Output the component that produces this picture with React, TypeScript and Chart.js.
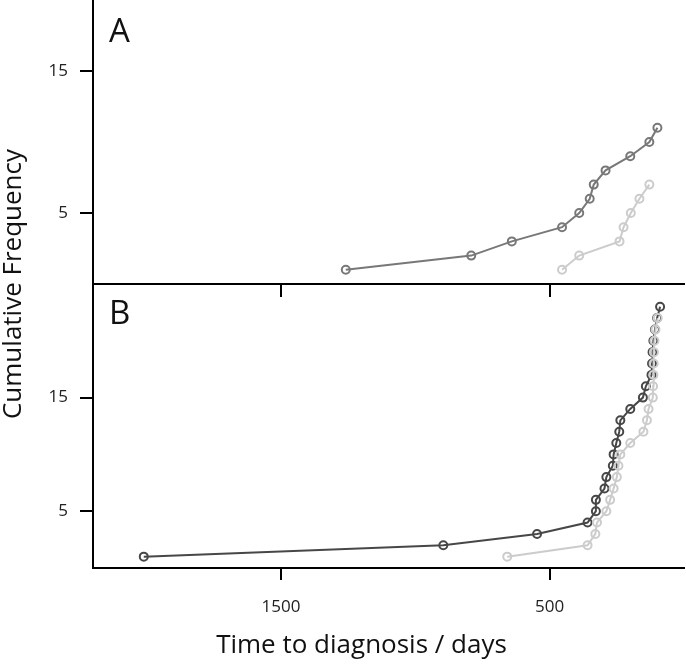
import React, { useEffect, useRef } from 'react';
import { Chart, registerables } from 'chart.js';

Chart.register(...registerables);

// ---- Data ----
// Panel A
const panelADarkDays = [1259, 792, 641, 454, 390, 351, 336, 292, 200, 129, 99];
const panelADarkFreq = [1, 2, 3, 4, 5, 6, 7, 8, 9, 10, 11];
const panelALightDays = [454, 390, 240, 225, 198, 166, 129];
const panelALightFreq = [1, 2, 3, 4, 5, 6, 7];
// Panel B
const panelBDarkDays = [2011, 896, 547, 359, 328, 328, 296, 289, 265, 262, 252, 241, 237, 200, 153, 142, 121, 119, 117, 114, 108, 100, 89];
const panelBDarkFreq = [1, 2, 3, 4, 5, 6, 7, 8, 9, 10, 11, 12, 13, 14, 15, 16, 17, 18, 19, 20, 21, 22, 23];
const panelBLightDays = [658, 359, 330, 324, 289, 275, 262, 250, 244, 237, 200, 151, 138, 132, 116, 115, 114, 113, 112, 110, 106, 98];
const panelBLightFreq = [1, 2, 3, 4, 5, 6, 7, 8, 9, 10, 11, 12, 13, 14, 15, 16, 17, 18, 19, 20, 21, 22];

// Axes
const xTickValues = [500, 1500];
const yTickValues = [5, 15];
const xRange = [0, 2200];
const yARange = [0, 20];
const yBRange = [0, 25];
const panelLabels = ['A', 'B'];
const xTitle = 'Time to diagnosis / days';
const yTitle = 'Cumulative Frequency';

const FONT = "'Open Sans', 'Noto Sans', sans-serif";

const toPoints = (days: number[], freq: number[]) => days.map((d, i) => ({ x: d, y: freq[i] }));

const lineStyle = (color: string) => ({
  borderColor: color,
  borderWidth: 2,
  pointRadius: 4,
  pointBorderWidth: 2,
  pointBorderColor: color,
  pointBackgroundColor: 'rgba(0,0,0,0)',
  pointHoverRadius: 4,
  tension: 0,
  fill: false,
});

const annotations = {
  id: 'panelAnnotations',
  afterDraw(chart: any) {
    const { ctx, chartArea, scales } = chart;
    ctx.save();
    ctx.fillStyle = '#111';
    ctx.font = `33px ${FONT}`;
    ctx.textAlign = 'left';
    ctx.textBaseline = 'alphabetic';
    ctx.fillText(panelLabels[0], chartArea.left + 16, scales.yA.top + 42);
    ctx.fillText(panelLabels[1], chartArea.left + 16, scales.yB.top + 40);
    // x title
    ctx.font = `26px ${FONT}`;
    ctx.textAlign = 'center';
    ctx.textBaseline = 'middle';
    ctx.fillText(xTitle, (chartArea.left + chartArea.right) / 2 - 27, chartArea.bottom + 78);
    // y title
    ctx.translate(14, (chartArea.top + chartArea.bottom) / 2);
    ctx.rotate(-Math.PI / 2);
    ctx.fillText(yTitle, 0, 0);
    ctx.restore();
  },
};

const tickSetter = (values: number[]) => (scale: any) => {
  scale.ticks = values.map((v) => ({ value: v }));
};

const yAxis = (range: number[]) => ({
  type: 'linear' as const,
  position: 'left' as const,
  stack: 'panels',
  stackWeight: 1,
  min: range[0],
  max: range[1],
  afterBuildTicks: tickSetter(yTickValues),
  afterFit: (s: any) => {
    s.width = 93;
    s.paddingTop = 0;
    s.paddingBottom = 0;
  },
  grid: { display: true, drawOnChartArea: false, drawTicks: true, tickLength: 13, color: '#000', lineWidth: 2 },
  border: { display: true, color: '#000', width: 2 },
  ticks: { padding: 12, color: '#222', font: { family: FONT, size: 17 }, callback: (v: any) => String(v) },
});

export default function App() {
  const ref = useRef<HTMLCanvasElement>(null);
  useEffect(() => {
    if (!ref.current) return;
    const chart = new Chart(ref.current, {
      type: 'line',
      data: {
        datasets: [
          { data: toPoints(panelALightDays, panelALightFreq), xAxisID: 'x', yAxisID: 'yA', ...lineStyle('#cccccc') },
          { data: toPoints(panelADarkDays, panelADarkFreq), xAxisID: 'x', yAxisID: 'yA', ...lineStyle('#787878') },
          { data: toPoints(panelBLightDays, panelBLightFreq), xAxisID: 'x', yAxisID: 'yB', ...lineStyle('#cccccc') },
          { data: toPoints(panelBDarkDays, panelBDarkFreq), xAxisID: 'x', yAxisID: 'yB', ...lineStyle('#474747') },
        ] as any,
      },
      options: {
        animation: false,
        responsive: false,
        events: [],
        layout: { autoPadding: false, padding: { left: 0, right: 2, top: 0, bottom: 0 } },
        plugins: { legend: { display: false }, tooltip: { enabled: false } },
        scales: {
          x: {
            type: 'linear',
            position: 'bottom',
            reverse: true,
            min: xRange[0],
            max: xRange[1],
            afterBuildTicks: tickSetter(xTickValues),
            afterFit: (s: any) => {
              s.height = 97;
            },
            grid: { display: true, drawOnChartArea: false, drawTicks: true, tickLength: 12, color: '#000', lineWidth: 2 },
            border: { display: true, color: '#000', width: 2 },
            ticks: { padding: 17, color: '#222', font: { family: FONT, size: 17 }, callback: (v: any) => String(v) },
            title: { display: false },
          },
          xA: {
            type: 'linear',
            axis: 'x',
            position: { yA: 0 },
            reverse: true,
            min: xRange[0],
            max: xRange[1],
            afterBuildTicks: tickSetter(xTickValues),
            grid: { display: true, drawOnChartArea: false, drawTicks: true, tickLength: 12, color: '#000', lineWidth: 2 },
            border: { display: true, color: '#000', width: 2 },
            ticks: { display: false },
          },
          yB: yAxis(yBRange),
          yA: yAxis(yARange),
        } as any,
      },
      plugins: [annotations],
    });
    return () => chart.destroy();
  }, []);
  return (
    <div style={{ position: 'fixed', left: 0, top: 0, width: 686, height: 665, background: '#fff' }}>
      <canvas ref={ref} width={686} height={665} style={{ display: 'block' }} />
    </div>
  );
}
